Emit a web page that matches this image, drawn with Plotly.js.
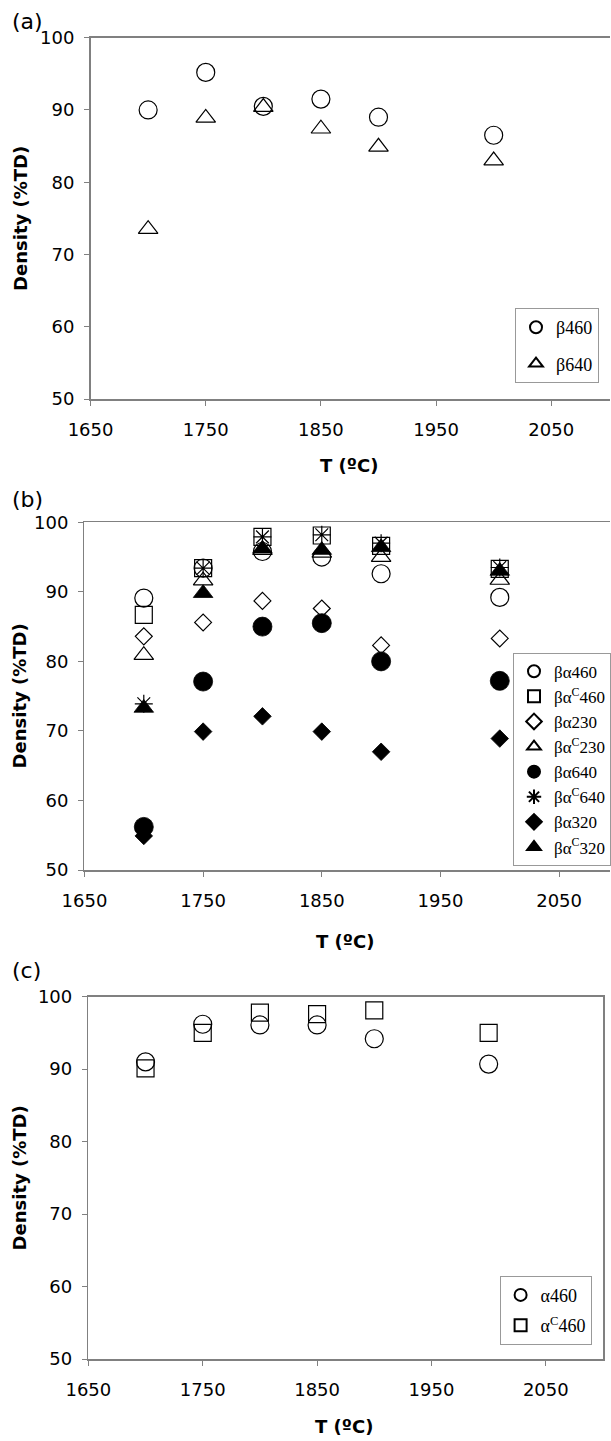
<!DOCTYPE html>
<html>
<head>
<meta charset="utf-8">
<script src="https://cdn.plot.ly/plotly-3.0.1.min.js"></script>
<style>
html,body{margin:0;padding:0;background:#fff;overflow:hidden;}
#chart{width:611px;height:1441px;}
</style>
</head>
<body>
<div id="chart"></div>
<script>
// Temperatures (°C)
const T = [1700, 1750, 1800, 1850, 1900, 2000];

// Panel (a)
const a_beta460 = [90.0, 95.2, 90.5, 91.5, 89.0, 86.5];
const a_beta640 = [73.5, 88.9, 90.4, 87.4, 84.9, 83.0];

// Panel (b)
const b_ba460  = [89.1, 93.4, 95.8, 95.0, 92.6, 89.2];
const b_bac460 = [86.7, 93.4, 97.9, 98.1, 96.6, 93.3];
const b_ba230  = [83.6, 85.6, 88.7, 87.6, 82.3, 83.3];
const b_bac230 = [80.9, 91.6, 96.0, 95.6, 95.0, 91.7];
const b_ba640  = [56.2, 77.1, 85.0, 85.5, 80.0, 77.2];
const b_bac640 = [73.9, 93.4, 97.9, 98.2, 97.0, 93.5];
const b_ba320  = [54.9, 69.9, 72.1, 69.9, 67.0, 68.9];
const b_bac320 = [73.3, 89.8, 96.2, 96.0, 96.4, 93.0];

// Panel (c)
const c_a460  = [91.0, 96.2, 96.1, 96.1, 94.2, 90.7];
const c_ac460 = [90.1, 95.0, 97.8, 97.6, 98.1, 95.0];

// Labels
const namesA = ['β460', 'β640'];
const namesB = ['βα460', 'βα<sup>C</sup>460', 'βα230', 'βα<sup>C</sup>230', 'βα640', 'βα<sup>C</sup>640', 'βα320', 'βα<sup>C</sup>320'];
const namesC = ['α460', 'α<sup>C</sup>460'];
const xTitle = '<b>T (ºC)</b>';
const yTitle = '<b>Density (%TD)</b>';

const H = 1441, W = 611;
const px = v => v / W;
const py = v => 1 - v / H;

function mk(symbol, size, filled) {
  return {
    symbol: symbol,
    size: size,
    color: '#000',
    line: {color: '#000', width: filled ? 0.8 : 1.2}
  };
}

function tr(x, y, name, marker, xa, ya, legend, group) {
  return {
    type: 'scatter', mode: 'markers', x: x, y: y, name: name,
    marker: marker, xaxis: xa, yaxis: ya, legend: legend,
    legendgroup: group, cliponaxis: false, hoverinfo: 'x+y+name'
  };
}

const data = [
  tr(T, a_beta460, namesA[0], mk('circle-open', 18, false), 'x', 'y', 'legend', 'a1'),
  tr(T, a_beta640, namesA[1], mk('triangle-up-open', 17, false), 'x', 'y', 'legend', 'a2'),

  tr(T, b_ba460,  namesB[0], mk('circle-open', 18, false), 'x2', 'y2', 'legend2', 'b'),
  tr(T, b_bac460, namesB[1], mk('square-open', 17, false), 'x2', 'y2', 'legend2', 'b'),
  tr(T, b_ba230,  namesB[2], mk('diamond-open', 13, false), 'x2', 'y2', 'legend2', 'b'),
  tr(T, b_bac230, namesB[3], mk('triangle-up-open', 17, false), 'x2', 'y2', 'legend2', 'b'),
  tr(T, b_ba640,  namesB[4], mk('circle', 19, true), 'x2', 'y2', 'legend2', 'b'),
  tr(T, b_bac640, namesB[5], mk('asterisk-open', 15, false), 'x2', 'y2', 'legend2', 'b'),
  tr(T, b_ba320,  namesB[6], mk('diamond', 13.5, true), 'x2', 'y2', 'legend2', 'b'),
  tr(T, b_bac320, namesB[7], mk('triangle-up', 17, true), 'x2', 'y2', 'legend2', 'b'),

  tr(T, c_a460,  namesC[0], mk('circle-open', 18, false), 'x3', 'y3', 'legend3', 'c1'),
  tr(T, c_ac460, namesC[1], mk('square-open', 17, false), 'x3', 'y3', 'legend3', 'c2')
];

const tickFont = {family: 'DejaVu Sans', size: 18, color: '#000'};
const axCol = '#808080';

function xax(domain, range, anchor) {
  return {
    domain: domain, range: range, anchor: anchor,
    tick0: 1650, dtick: 100, ticks: 'outside', ticklen: 5, tickwidth: 1, tickcolor: axCol,
    showline: true, linecolor: axCol, linewidth: 1.5, mirror: true,
    showgrid: false, zeroline: false, tickfont: tickFont, ticklabelstandoff: 9,
    fixedrange: true
  };
}
function yax(domain, anchor, mirror) {
  return {
    domain: domain, range: [50, 100], anchor: anchor,
    tick0: 50, dtick: 10, ticks: 'outside', ticklen: 5, tickwidth: 1, tickcolor: axCol,
    showline: true, linecolor: axCol, linewidth: 1.5, mirror: mirror,
    showgrid: false, zeroline: false, tickfont: tickFont, ticklabelstandoff: 6,
    fixedrange: true
  };
}

function leg(xc, ytop, gap, fs) {
  return {
    x: xc, y: ytop, xanchor: 'center', yanchor: 'top', xref: 'paper', yref: 'paper',
    bgcolor: '#fff', bordercolor: '#999', borderwidth: 1,
    font: {family: 'Liberation Serif, Times New Roman, serif', size: fs, color: '#000'},
    itemsizing: 'constant', tracegroupgap: gap, itemwidth: 30
  };
}

function ann(text, x, y, opts) {
  return Object.assign({
    text: text, x: x, y: y, xref: 'paper', yref: 'paper', showarrow: false,
    xanchor: 'center', yanchor: 'middle',
    font: {family: 'DejaVu Sans', size: 18, color: '#000'}
  }, opts || {});
}

const letterFont = {family: 'DejaVu Sans', size: 22, color: '#000'};

const layout = {
  width: W, height: H,
  margin: {l: 0, r: 0, t: 0, b: 0},
  paper_bgcolor: '#fff', plot_bgcolor: '#fff',
  showlegend: true,
  xaxis: xax([px(90.7), 1], [1650, 2101], 'y'),
  yaxis: yax([py(399), py(37.7)], 'x', false),
  xaxis2: xax([px(84.6), 1], [1650, 2092.9], 'y2'),
  yaxis2: yax([py(870), py(522.3)], 'x2', false),
  xaxis3: xax([px(88.5), px(604)], [1650, 2100], 'y3'),
  yaxis3: yax([py(1359), py(996.7)], 'x3', true),
  legend: leg(px(557), py(308), 10, 18),
  legend2: leg(px(563), py(652.7), 0, 17),
  legend3: leg(px(545.6), py(1275.7), 4, 18),
  annotations: [
    ann(xTitle, px(350), py(465)),
    ann(xTitle, px(346), py(941.7)),
    ann(xTitle, px(345), py(1426.7)),
    ann(yTitle, px(20), py(218), {textangle: -90}),
    ann(yTitle, px(19.5), py(696), {textangle: -90}),
    ann(yTitle, px(19.5), py(1178), {textangle: -90}),
    ann('(a)', px(10), py(21), {xanchor: 'left', font: letterFont}),
    ann('(b)', px(10), py(499), {xanchor: 'left', font: letterFont}),
    ann('(c)', px(10), py(970), {xanchor: 'left', font: letterFont})
  ]
};

Plotly.newPlot('chart', data, layout, {displayModeBar: false, staticPlot: true});
</script>
</body>
</html>
